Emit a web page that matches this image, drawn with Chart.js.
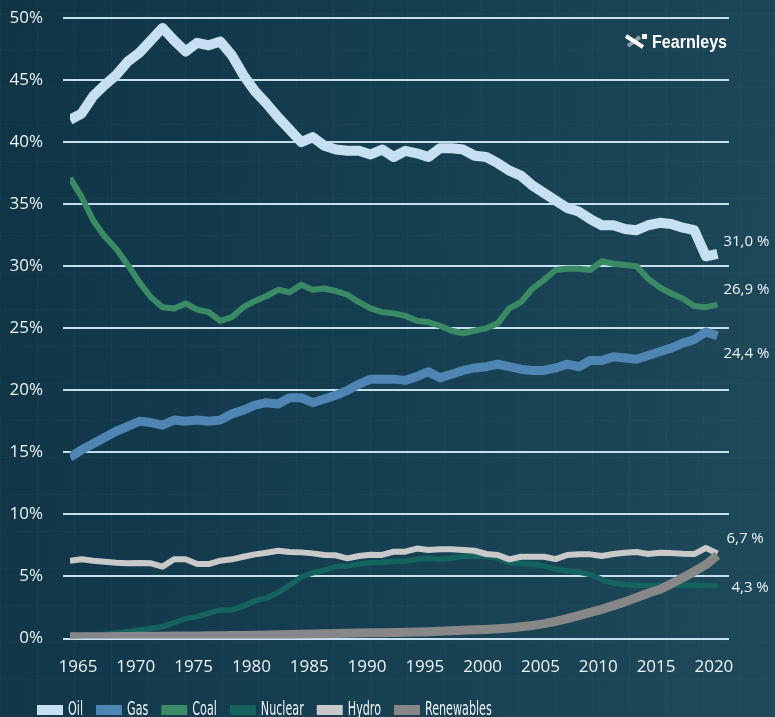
<!DOCTYPE html>
<html>
<head>
<meta charset="utf-8">
<script src="https://cdn.jsdelivr.net/npm/chart.js@4.4.1/dist/chart.umd.min.js"></script>
<style>
    html, body { margin: 0; padding: 0; }
    body {
        width: 775px;
        height: 717px;
        overflow: hidden;
        background:
            repeating-linear-gradient(90deg, rgba(255,255,255,0.025) 0 1px, transparent 1px 37px),
            repeating-linear-gradient(0deg, rgba(255,255,255,0.02) 0 1px, transparent 1px 37px),
            linear-gradient(100deg, #0f3446 0%, #153d50 45%, #1f4a5b 100%);
    }
    #wrap { position: relative; width: 775px; height: 717px; }
</style>
</head>
<body>
<div id="wrap"><canvas id="energyChart" width="775" height="717"></canvas></div>
<script>
// Годы (ось X)
const years = [1965, 1966, 1967, 1968, 1969, 1970, 1971, 1972, 1973, 1974,
    1975, 1976, 1977, 1978, 1979, 1980, 1981, 1982, 1983, 1984,
    1985, 1986, 1987, 1988, 1989, 1990, 1991, 1992, 1993, 1994,
    1995, 1996, 1997, 1998, 1999, 2000, 2001, 2002, 2003, 2004,
    2005, 2006, 2007, 2008, 2009, 2010, 2011, 2012, 2013, 2014,
    2015, 2016, 2017, 2018, 2019, 2020, 2021];

// Доли в первичном энергопотреблении, %
const oil = [41.8, 42.3, 43.7, 44.6, 45.4, 46.5, 47.2, 48.2, 49.2, 48.2,
    47.3, 48.0, 47.8, 48.1, 47.0, 45.4, 44.1, 43.1, 42.0, 41.0,
    40.0, 40.4, 39.7, 39.4, 39.3, 39.3, 39.0, 39.4, 38.8, 39.3,
    39.1, 38.8, 39.5, 39.5, 39.4, 38.9, 38.8, 38.3, 37.7, 37.3,
    36.5, 35.9, 35.3, 34.7, 34.4, 33.8, 33.3, 33.3, 33.0, 32.9,
    33.3, 33.5, 33.4, 33.1, 32.9, 30.8, 31.0];
const gas = [14.6, 15.2, 15.7, 16.2, 16.7, 17.1, 17.5, 17.4, 17.2, 17.6,
    17.5, 17.6, 17.5, 17.6, 18.1, 18.4, 18.8, 19.0, 18.9, 19.4,
    19.4, 19.0, 19.3, 19.6, 20.0, 20.5, 20.9, 20.9, 20.9, 20.8,
    21.1, 21.5, 21.0, 21.3, 21.6, 21.8, 21.9, 22.1, 21.9, 21.7,
    21.6, 21.6, 21.8, 22.1, 21.9, 22.4, 22.4, 22.7, 22.6, 22.5,
    22.8, 23.1, 23.4, 23.8, 24.1, 24.7, 24.4];
const coal = [37.1, 35.6, 33.7, 32.4, 31.4, 30.1, 28.7, 27.5, 26.7, 26.6,
    27.0, 26.5, 26.3, 25.6, 25.9, 26.7, 27.2, 27.6, 28.1, 27.9,
    28.5, 28.1, 28.2, 28.0, 27.7, 27.1, 26.6, 26.3, 26.2, 26.0,
    25.6, 25.5, 25.2, 24.8, 24.6, 24.8, 25.0, 25.4, 26.6, 27.1,
    28.2, 28.9, 29.7, 29.8, 29.8, 29.7, 30.4, 30.2, 30.1, 30.0,
    29.0, 28.3, 27.8, 27.4, 26.8, 26.7, 26.9];
const nuclear = [0.2, 0.25, 0.3, 0.35, 0.45, 0.55, 0.68, 0.82, 0.95, 1.27,
    1.6, 1.76, 2.05, 2.3, 2.3, 2.6, 3.05, 3.25, 3.7, 4.3,
    4.95, 5.3, 5.5, 5.8, 5.85, 6.0, 6.1, 6.15, 6.2, 6.25,
    6.38, 6.46, 6.38, 6.46, 6.6, 6.65, 6.6, 6.46, 6.1, 6.05,
    6.0, 5.85, 5.6, 5.45, 5.35, 5.15, 4.75, 4.45, 4.35, 4.3,
    4.3, 4.3, 4.3, 4.3, 4.3, 4.3, 4.25];
const hydro = [6.27, 6.38, 6.27, 6.19, 6.11, 6.06, 6.08, 6.06, 5.79, 6.38,
    6.38, 6.0, 6.0, 6.27, 6.38, 6.59, 6.78, 6.91, 7.07, 6.97,
    6.94, 6.86, 6.73, 6.7, 6.46, 6.65, 6.75, 6.73, 7.0, 7.0,
    7.25, 7.13, 7.19, 7.19, 7.13, 7.07, 6.81, 6.73, 6.38, 6.59,
    6.59, 6.59, 6.4, 6.73, 6.78, 6.78, 6.65, 6.81, 6.91, 6.97,
    6.81, 6.91, 6.88, 6.82, 6.8, 7.3, 6.85];
const renewables = [0.15, 0.15, 0.15, 0.15, 0.16, 0.17, 0.18, 0.18, 0.19, 0.2,
    0.2, 0.21, 0.22, 0.23, 0.24, 0.25, 0.27, 0.29, 0.31, 0.33,
    0.35, 0.37, 0.39, 0.41, 0.43, 0.45, 0.46, 0.47, 0.48, 0.5,
    0.52, 0.55, 0.58, 0.62, 0.66, 0.7, 0.73, 0.78, 0.85, 0.94,
    1.05, 1.2, 1.38, 1.6, 1.85, 2.1, 2.35, 2.65, 2.95, 3.3,
    3.65, 3.95, 4.4, 4.9, 5.4, 5.95, 6.7];

// Подписи
const seriesNames = ['Oil', 'Gas', 'Coal', 'Nuclear', 'Hydro', 'Renewables'];
const endLabels = ['31,0 %', '24,4 %', '26,9 %', '4,3 %', '', '6,7 %'];
const xTicks = [1965, 1970, 1975, 1980, 1985, 1990, 1995, 2000, 2005, 2010, 2015, 2020];
const yTicks = [0, 5, 10, 15, 20, 25, 30, 35, 40, 45, 50];

// Стиль серий: цвет, толщина, порядок отрисовки, сдвиг подписи в конце
const seriesStyle = [
    { color: '#c6dff1', width: 10, order: 5, dx: 6, dy: -12 },
    { color: '#4f85b3', width: 9, order: 4, dx: 6, dy: 18 },
    { color: '#3b8a66', width: 6, order: 3, dx: 6, dy: -15 },
    { color: '#15635e', width: 5.5, order: 2, dx: 14, dy: 2 },
    { color: '#c9c9c9', width: 6, order: 1, dx: 0, dy: 0 },
    { color: '#878787', width: 9, order: 0, dx: 9, dy: -17 }
];
const seriesValues = [oil, gas, coal, nuclear, hydro, renewables];

const textColor = '#eef3f6';
const gridColor = '#c6dff1';

// Подписи значений в конце линий
const endLabelPlugin = {
    id: 'endLabels',
    afterDatasetsDraw(chart) {
        const ctx = chart.ctx;
        const xs = chart.scales.x;
        const ys = chart.scales.y;
        ctx.save();
        ctx.font = '15px "Open Sans"';
        ctx.fillStyle = textColor;
        ctx.textAlign = 'left';
        ctx.textBaseline = 'middle';
        seriesValues.forEach((vals, i) => {
            if (!endLabels[i]) return;
            const last = vals.length - 1;
            const x = xs.getPixelForValue(years[last]) + seriesStyle[i].dx;
            const y = ys.getPixelForValue(vals[last]) + seriesStyle[i].dy;
            ctx.fillText(endLabels[i], x, y);
        });
        ctx.restore();
    }
};

// Узкий шрифт рисуем сжатым по горизонтали
function drawNarrowText(ctx, text, x, y, sx) {
    ctx.save();
    ctx.translate(x, y);
    ctx.scale(sx, 1);
    ctx.fillText(text, 0, 0);
    ctx.restore();
    return ctx.measureText(text).width * sx;
}

// Легенда внизу
const legendPlugin = {
    id: 'narrowLegend',
    afterDraw(chart) {
        const ctx = chart.ctx;
        ctx.save();
        ctx.font = '20px "DejaVu Sans Condensed", "DejaVu Sans"';
        ctx.textAlign = 'left';
        ctx.textBaseline = 'alphabetic';
        let x = 37;
        seriesNames.forEach((name, i) => {
            ctx.fillStyle = seriesStyle[i].color;
            ctx.fillRect(x, 705, 26, 10);
            ctx.fillStyle = textColor;
            const w = drawNarrowText(ctx, name, x + 31, 715, 0.62);
            x = x + 31 + w + 13;
        });
        ctx.restore();
    }
};

// Логотип в правом верхнем углу
const logoPlugin = {
    id: 'logo',
    afterDraw(chart) {
        const ctx = chart.ctx;
        ctx.save();
        ctx.lineCap = 'butt';
        ctx.strokeStyle = '#8fa3ad';
        ctx.lineWidth = 4;
        ctx.beginPath();
        ctx.moveTo(628, 46);
        ctx.lineTo(640, 37);
        ctx.stroke();
        ctx.strokeStyle = '#ffffff';
        ctx.beginPath();
        ctx.moveTo(626, 36);
        ctx.lineTo(643, 47);
        ctx.stroke();
        ctx.fillStyle = '#ffffff';
        ctx.fillRect(642, 34, 5, 5);
        ctx.font = 'bold 19px "Liberation Sans"';
        ctx.textAlign = 'left';
        ctx.textBaseline = 'alphabetic';
        const sx = 75 / ctx.measureText('Fearnleys').width;
        drawNarrowText(ctx, 'Fearnleys', 652, 48, sx);
        ctx.restore();
    }
};

const datasets = seriesNames.map((name, i) => ({
    label: name,
    data: years.map((yr, j) => ({ x: yr, y: seriesValues[i][j] })),
    borderColor: seriesStyle[i].color,
    backgroundColor: seriesStyle[i].color,
    borderWidth: seriesStyle[i].width,
    borderJoinStyle: 'round',
    pointRadius: 0,
    tension: 0,
    fill: false,
    order: seriesStyle[i].order
}));

const ctx = document.getElementById('energyChart').getContext('2d');
new Chart(ctx, {
    type: 'line',
    data: { datasets },
    plugins: [endLabelPlugin, legendPlugin, logoPlugin],
    options: {
        responsive: false,
        animation: false,
        layout: { padding: { left: 0, right: 46, top: 18, bottom: 0 } },
        plugins: {
            tooltip: { enabled: false },
            legend: { display: false }
        },
        scales: {
            x: {
                type: 'linear',
                min: 1965,
                max: 2022,
                afterBuildTicks: scale => { scale.ticks = xTicks.map(v => ({ value: v })); },
                afterFit: scale => { scale.height = 78.5; },
                grid: { display: false, drawTicks: false },
                border: { display: false },
                ticks: {
                    color: textColor,
                    font: { family: '"Open Sans"', size: 17 },
                    padding: 18,
                    labelOffset: 8,
                    maxRotation: 0,
                    autoSkip: false,
                    callback: v => String(v)
                }
            },
            y: {
                min: 0,
                max: 50,
                afterBuildTicks: scale => { scale.ticks = yTicks.map(v => ({ value: v })); },
                afterFit: scale => {
                    scale.width = 70;
                    scale.paddingTop = 0;
                    scale.paddingBottom = 0;
                },
                grid: { color: gridColor, lineWidth: 2, tickLength: 7, drawTicks: true },
                border: { display: false },
                ticks: {
                    color: textColor,
                    font: { family: '"Open Sans"', size: 17 },
                    padding: 20,
                    callback: v => v + '%'
                }
            }
        }
    }
});
</script>
</body>
</html>
